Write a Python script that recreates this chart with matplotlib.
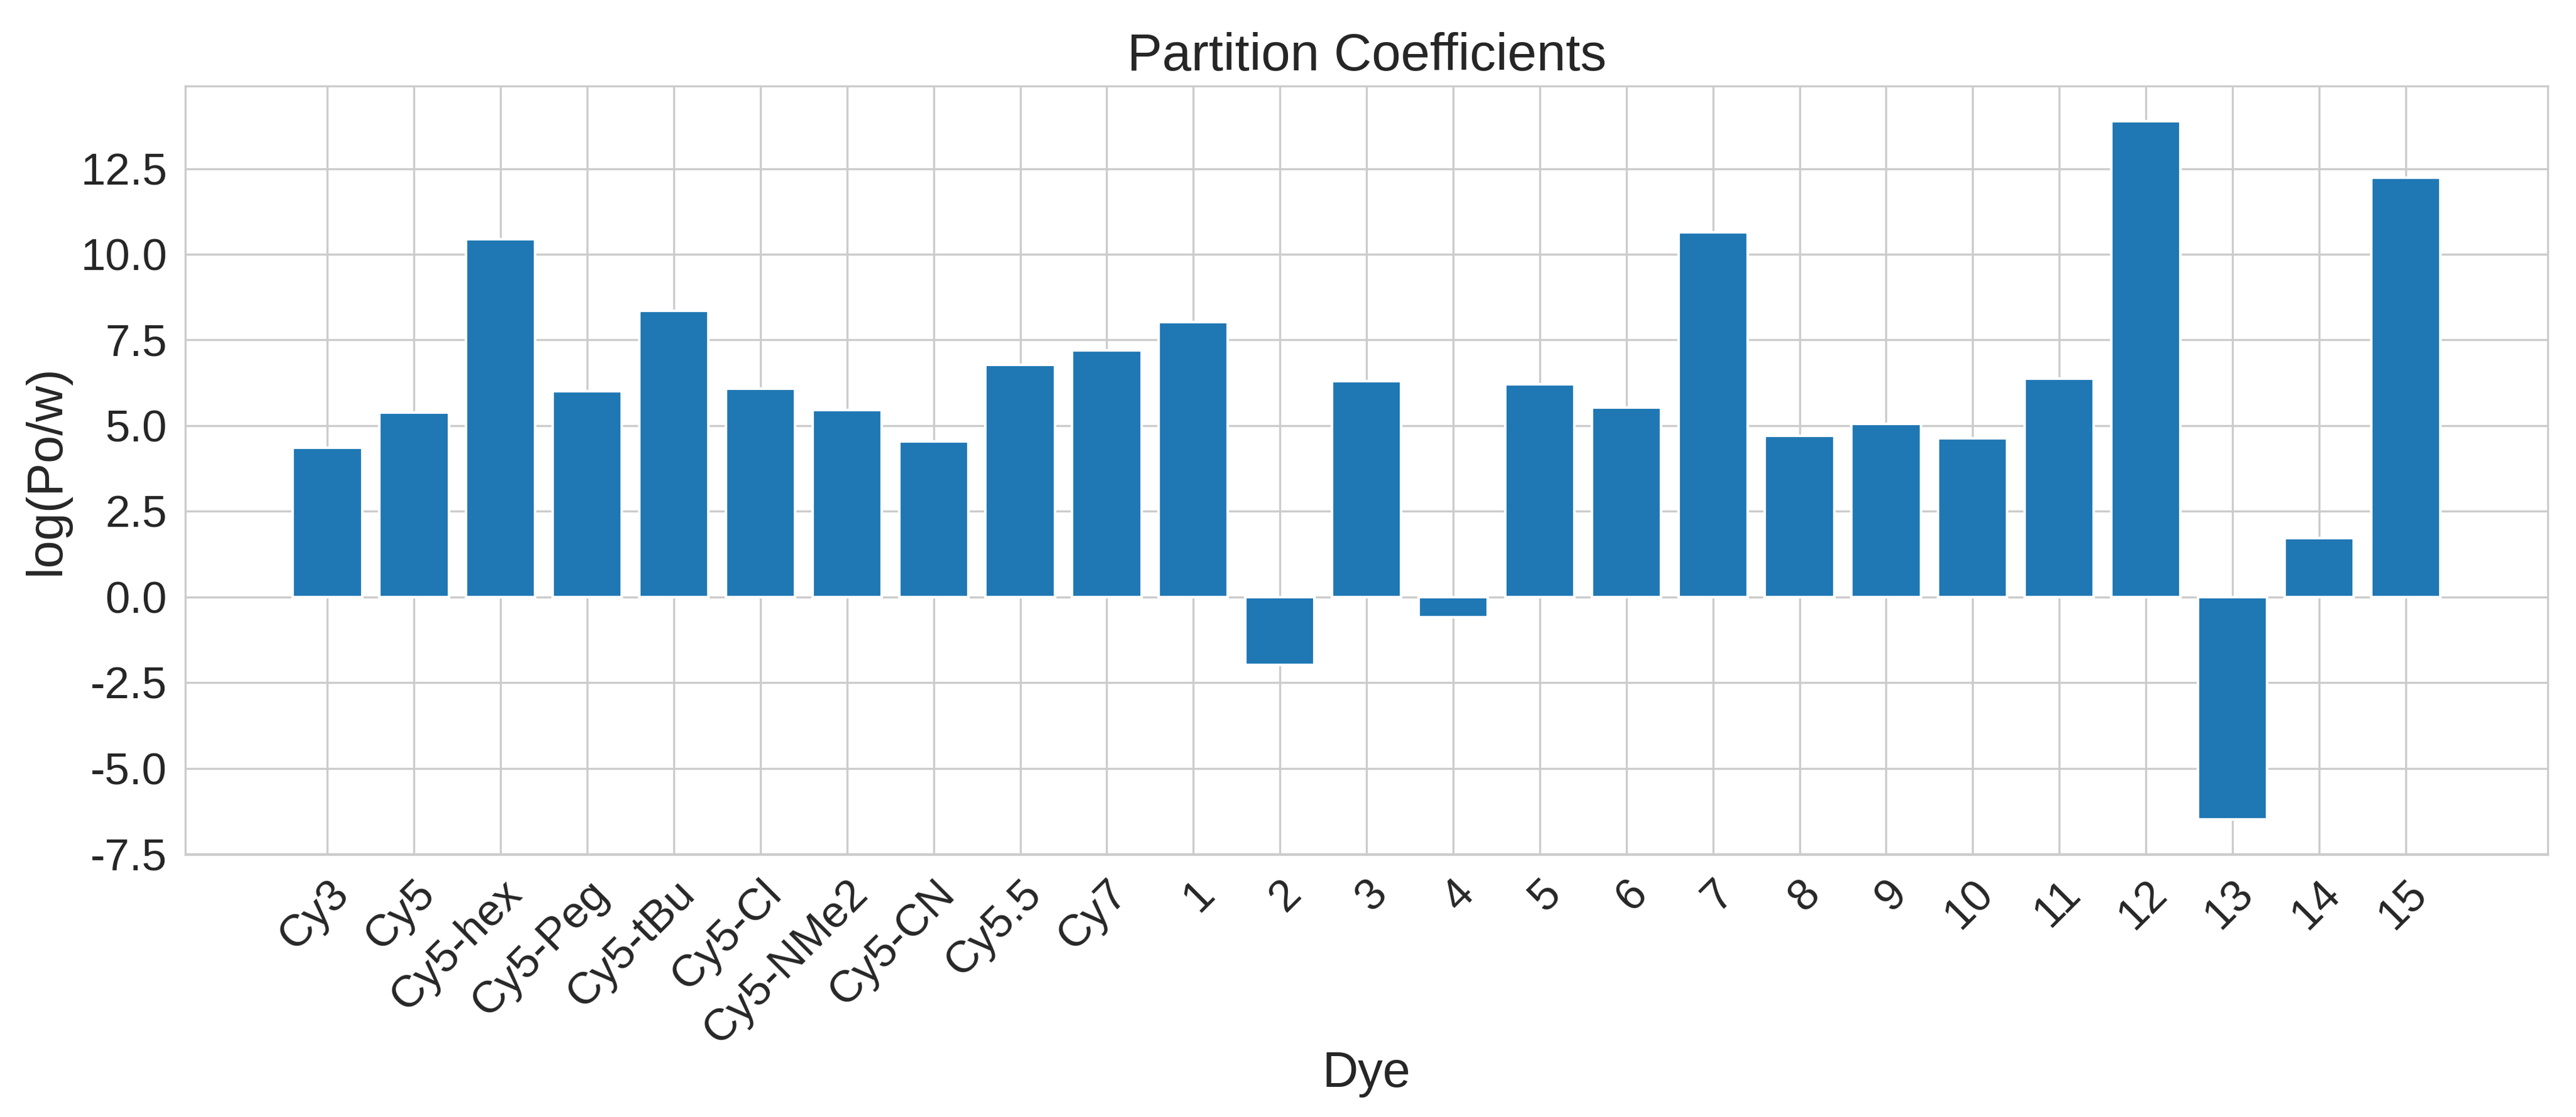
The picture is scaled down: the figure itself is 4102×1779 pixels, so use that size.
import matplotlib
matplotlib.use("Agg")
import matplotlib.pyplot as plt
from matplotlib.ticker import MultipleLocator
import seaborn as sns

# Data
dyes = ['Cy3', 'Cy5', 'Cy5-hex', 'Cy5-Peg', 'Cy5-tBu', 'Cy5-Cl', 'Cy5-NMe2',
        'Cy5-CN', 'Cy5.5', 'Cy7', '1', '2', '3', '4', '5', '6', '7', '8',
        '9', '10', '11', '12', '13', '14', '15']
log_p = [4.35, 5.39, 10.44, 6.00, 8.36, 6.08, 5.46,
         4.55, 6.78, 7.19, 8.03, -1.98, 6.30, -0.59, 6.21, 5.53, 10.64, 4.71,
         5.05, 4.63, 6.37, 13.89, -6.49, 1.73, 12.23]

sns.set_style('whitegrid')
plt.rcParams['font.family'] = ['Liberation Sans', 'DejaVu Sans']
plt.rcParams['axes.unicode_minus'] = False

fig, ax = plt.subplots(figsize=(4102 / 300, 1779 / 300), dpi=300)
fig.subplots_adjust(left=0.072, right=0.989, top=0.923, bottom=0.235)

ax.bar(dyes, log_p, color='#1f77b4')
ax.yaxis.set_major_locator(MultipleLocator(2.5))
ax.set_title('Partition Coefficients', fontsize=20, color='.15')
ax.set_xlabel('Dye', fontsize=19, color='.15')
ax.xaxis.set_label_coords(0.5, -0.255)
ax.set_ylabel('log(Po/w)', fontsize=19, color='.15')
ax.tick_params(axis='both', labelsize=17)
plt.setp(ax.get_xticklabels(), rotation=45, ha='right', rotation_mode='anchor')

fig.savefig('out.png', dpi=300)
